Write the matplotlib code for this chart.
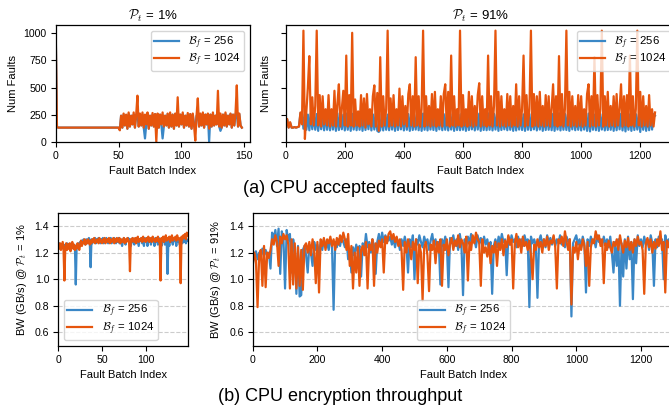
import numpy as np
import matplotlib
matplotlib.use("Agg")
import matplotlib.pyplot as plt

plt.rcParams['font.family'] = ['Liberation Sans', 'DejaVu Sans']
plt.rcParams['mathtext.fontset'] = 'cm'

BLUE = '#3a87c6'
ORANGE = '#e6550d'

# ---------------- data ----------------
# (a) accepted faults, P_t = 1%  (fault batch index 0..148)
faults_1_b1024 = [
    1030, 135,
    130, 130, 130, 130, 130, 130, 130, 130, 130, 130,
    130, 130, 130, 130, 130, 130, 130, 130, 130, 130,
    130, 130, 130, 130, 130, 130, 130, 130, 130, 130,
    130, 130, 130, 130, 130, 130, 130, 130, 130, 130,
    130, 130, 130, 130, 130, 130, 130, 130, 130,
    105, 240, 130, 260, 150, 250, 120, 270, 140,
    240, 160, 270, 130, 250, 425, 140, 260, 150, 270,
    130, 250, 160, 270, 120, 240, 150, 265, 140, 255,
    0, 260, 130, 250, 160, 270, 140, 240, 150, 260,
    130, 270, 140, 250, 120, 260, 150, 410, 140, 250,
    160, 270, 130, 240, 150, 265, 140, 255, 120, 260,
    150, 10, 240, 400, 140, 260, 150, 270, 130, 250,
    160, 260, 120, 250, 140, 270, 150, 240, 160, 470,
    140, 260, 130, 250, 150, 270, 140, 240, 160, 260,
    130, 250, 150, 270, 520, 140, 260, 150, 130,
]
faults_1_b256 = [
    1030, 135,
    130, 130, 130, 130, 130, 130, 130, 130, 130, 130,
    130, 130, 130, 130, 130, 130, 130, 130, 130, 130,
    130, 130, 130, 130, 130, 130, 130, 130, 130, 130,
    130, 130, 130, 130, 130, 130, 130, 130, 130, 130,
    130, 130, 130, 130, 130, 130, 130, 130, 130,
    110, 240, 130, 250, 150, 245, 120, 255, 140,
    240, 160, 250, 130, 250, 250, 140, 255, 150, 250,
    130, 30, 160, 255, 120, 240, 150, 250, 140, 255,
    130, 250, 130, 250, 160, 30, 140, 240, 150, 255,
    130, 250, 140, 250, 120, 255, 150, 250, 140, 250,
    160, 255, 130, 240, 150, 250, 140, 255, 120, 250,
    150, 130, 240, 250, 140, 255, 150, 250, 130, 250,
    160, 255, 0, 250, 140, 255, 150, 240, 160, 250,
    140, 100, 130, 250, 150, 255, 140, 240, 160, 255,
    130, 250, 150, 255, 260, 140, 255, 150, 130,
]

# (a) accepted faults, P_t = 91%  (fault batch index 0..1250, every 5th batch)
faults_91_b1024 = [
    130, 210, 130, 180, 130, 130, 135, 130, 135, 140,
    270, 160, 1025, 25, 280, 500, 790, 160, 410, 150,
    330, 1025, 150, 430, 140, 420, 160, 300, 150, 430,
    140, 300, 150, 470, 140, 350, 530, 140, 300, 470,
    150, 795, 140, 430, 150, 1005, 140, 390, 150, 280,
    140, 430, 150, 400, 130, 440, 160, 300, 140, 420,
    520, 140, 450, 100, 780, 140, 420, 150, 300, 1025,
    140, 400, 150, 430, 140, 300, 150, 490, 140, 420,
    160, 330, 140, 440, 530, 150, 420, 140, 780, 150,
    420, 140, 300, 1025, 140, 420, 150, 330, 140, 440,
    150, 460, 140, 300, 150, 420, 140, 440, 530, 150,
    460, 140, 795, 150, 420, 140, 300, 150, 1025, 140,
    430, 150, 300, 140, 460, 150, 420, 140, 330, 150,
    430, 540, 140, 420, 150, 300, 140, 795, 150, 420,
    140, 330, 1025, 150, 460, 140, 420, 150, 300, 140,
    440, 150, 420, 140, 330, 150, 530, 140, 420, 150,
    300, 795, 140, 430, 150, 300, 1025, 140, 440, 150,
    420, 140, 460, 150, 330, 140, 430, 150, 420, 140,
    300, 530, 150, 420, 140, 790, 150, 440, 140, 300,
    1025, 150, 460, 140, 420, 150, 330, 140, 430, 150,
    420, 140, 300, 150, 440, 530, 140, 420, 150, 780,
    140, 430, 150, 300, 1025, 140, 420, 150, 460, 140,
    330, 150, 420, 140, 440, 150, 300, 530, 140, 420,
    150, 430, 140, 795, 150, 420, 140, 300, 1025, 150,
    460, 140, 420, 150, 330, 140, 430, 150, 300, 140,
    270,
]
faults_91_b256 = [
    130, 205, 130, 175, 130, 130, 135, 130, 135, 140,
    265, 260, 120, 255, 110, 250, 105, 260, 115, 255,
    110, 255, 100, 260, 115, 250, 105, 262, 110, 255,
    105, 258, 112, 250, 100, 262, 108, 255, 115, 250,
    104, 260, 110, 252, 100, 258, 112, 250, 106, 260,
    110, 255, 100, 262, 108, 250, 115, 258, 104, 252,
    112, 260, 100, 90, 108, 255, 104, 262, 110, 250,
    106, 258, 112, 252, 100, 260, 108, 255, 114, 250,
    104, 262, 110, 255, 100, 258, 108, 250, 112, 260,
    106, 252, 100, 260, 110, 255, 104, 262, 112, 250,
    108, 258, 100, 252, 114, 260, 106, 255, 110, 250,
    104, 262, 112, 255, 100, 258, 108, 250, 106, 260,
    110, 252, 100, 262, 108, 255, 114, 250, 104, 258,
    112, 260, 100, 252, 108, 255, 106, 262, 110, 250,
    104, 258, 112, 255, 100, 260, 108, 252, 114, 250,
    106, 262, 110, 255, 100, 258, 104, 250, 112, 260,
    108, 252, 100, 262, 110, 255, 106, 258, 114, 250,
    104, 260, 112, 252, 100, 262, 108, 255, 110, 250,
    106, 258, 100, 255, 112, 262, 104, 250, 110, 258,
    108, 252, 100, 260, 114, 255, 106, 262, 110, 250,
    104, 258, 112, 255, 100, 260, 95, 252, 110, 250,
    106, 262, 100, 255, 112, 258, 104, 250, 108, 260,
    110, 252, 100, 262, 106, 255, 114, 258, 104, 250,
    95, 260, 110, 252, 100, 262, 108, 255, 112, 250,
    90, 258, 110, 255, 100, 262, 106, 250, 112, 255,
    240,
]

# (b) encryption throughput (GB/s), P_t = 1%  (index 0..148)
bw_1_b1024 = [
    1.26, 1.23, 1.27, 1.22, 1.25, 1.28, 1.22, 0.99, 1.24, 1.27,
    1.22, 1.26, 1.23, 1.27, 1.21, 1.25, 1.28, 1.23, 1.26, 1.22,
    1.25, 1.23, 1.27, 1.24, 1.22, 1.26, 1.29, 1.25, 1.28, 1.27,
    1.30, 1.26, 1.29, 1.27, 1.30, 1.28, 1.26, 1.29, 1.27, 1.30,
    1.28, 1.31, 1.27, 1.29, 1.28, 1.30, 1.27, 1.31, 1.28, 1.29,
    1.27, 1.30, 1.28, 1.31, 1.27, 1.29, 1.30, 1.28, 1.31, 1.27,
    1.30, 1.28, 1.29, 1.31, 1.27, 1.30, 1.28, 1.31, 1.29, 1.28,
    1.31, 1.27, 1.30, 1.29, 1.28, 1.31, 1.27, 1.30, 1.28, 1.31,
    1.29, 1.28, 1.06, 1.30, 1.28, 1.31, 1.29, 1.28, 1.31, 1.27,
    1.30, 1.32, 1.28, 1.30, 1.29, 1.31, 1.28, 1.32, 1.29, 1.30,
    1.28, 1.31, 1.29, 1.32, 1.28, 1.30, 1.31, 1.28, 1.32, 1.29,
    1.30, 1.28, 1.31, 1.29, 1.32, 1.28, 1.30, 0.99, 1.31, 1.29,
    1.32, 1.28, 1.30, 1.33, 1.29, 1.31, 1.30, 1.32, 1.28, 1.31,
    1.33, 1.29, 1.31, 1.30, 1.32, 1.29, 1.33, 1.30, 1.31, 1.29,
    0.97, 1.32, 1.30, 1.33, 1.31, 1.34, 1.30, 1.35, 1.33,
]
bw_1_b256 = [
    1.25, 1.27, 1.24, 1.26, 1.23, 1.27, 1.25, 1.24, 1.26, 1.23,
    1.27, 1.24, 1.26, 1.23, 1.25, 1.27, 1.24, 1.26, 1.23, 1.25,
    0.96, 1.26, 1.24, 1.27, 1.25, 1.28, 1.26, 1.29, 1.27, 1.30,
    1.28, 1.26, 1.30, 1.27, 1.29, 1.31, 1.28, 1.09, 1.30, 1.27,
    1.30, 1.28, 1.31, 1.27, 1.30, 1.28, 1.31, 1.29, 1.27, 1.30,
    1.28, 1.31, 1.27, 1.30, 1.28, 1.31, 1.29, 1.27, 1.30, 1.28,
    1.31, 1.27, 1.29, 1.28, 1.31, 1.29, 1.27, 1.30, 1.28, 1.31,
    1.27, 1.30, 1.28, 1.25, 1.29, 1.31, 1.28, 1.26, 1.30, 1.29,
    1.31, 1.28, 1.30, 1.25, 1.29, 1.31, 1.28, 1.26, 1.30, 1.29,
    1.31, 1.28, 1.25, 1.30, 1.29, 1.31, 1.27, 1.30, 1.25, 1.31,
    1.29, 1.30, 1.25, 1.31, 1.28, 1.30, 1.26, 1.31, 1.29, 1.30,
    1.25, 1.31, 1.28, 1.30, 1.26, 1.31, 1.29, 1.30, 1.25, 1.31,
    1.28, 1.30, 1.26, 1.31, 1.29, 1.04, 1.30, 1.25, 1.31, 1.28,
    1.30, 1.26, 1.31, 1.29, 1.30, 1.25, 1.31, 1.28, 1.30, 1.26,
    1.31, 1.29, 1.27, 1.30, 1.28, 1.31, 1.27, 1.30, 1.29,
]

# (b) encryption throughput (GB/s), P_t = 91%  (index 0..1290, every 5th batch)
bw_91_b1024 = [
    1.10, 1.20, 1.14, 0.79, 1.18, 1.22, 0.95, 1.25, 0.94, 1.20,
    1.16, 1.22, 1.30, 1.26, 1.33, 1.28, 1.10, 1.32, 1.27, 1.34,
    1.30, 1.33, 1.26, 0.93, 1.30, 0.96, 1.27, 0.93, 1.24, 0.95,
    1.22, 0.92, 1.25, 1.27, 1.20, 1.28, 1.18, 1.30, 1.22, 0.97,
    1.28, 0.90, 1.30, 1.25, 1.31, 1.22, 1.30, 1.27, 1.32, 1.25,
    1.30, 1.22, 1.31, 1.26, 1.33, 1.28, 1.35, 1.30, 1.22, 1.34,
    1.10, 1.25, 0.93, 1.20, 1.05, 1.24, 0.95, 1.22, 1.25, 1.18,
    1.28, 0.93, 1.26, 1.22, 1.30, 0.95, 1.27, 1.20, 1.29, 1.24,
    1.30, 1.05, 1.32, 1.27, 1.34, 1.36, 1.30, 1.34, 1.28, 1.32,
    1.25, 1.30, 1.22, 0.92, 1.28, 1.20, 1.30, 1.24, 1.15, 1.28,
    1.22, 1.30, 0.97, 1.26, 1.20, 0.84, 1.24, 1.28, 1.18, 0.91,
    1.26, 1.22, 1.29, 1.12, 1.28, 1.20, 1.30, 0.95, 1.26, 1.22,
    1.30, 1.18, 1.27, 1.31, 1.22, 1.29, 1.25, 1.33, 1.24, 1.30,
    1.27, 1.20, 1.32, 0.99, 1.28, 1.22, 1.33, 1.27, 1.35, 1.30,
    1.28, 0.95, 1.30, 1.20, 1.24, 1.17, 1.27, 1.12, 1.25, 1.20,
    1.28, 1.10, 1.27, 1.22, 1.30, 1.18, 1.29, 1.24, 1.33, 1.26,
    1.30, 0.93, 1.27, 1.34, 1.24, 1.30, 1.20, 1.32, 1.25, 1.28,
    1.22, 1.29, 1.18, 1.00, 1.26, 1.22, 1.30, 1.24, 1.28, 1.20,
    1.30, 1.25, 1.32, 1.22, 1.29, 1.27, 1.33, 1.24, 0.93, 1.30,
    1.27, 1.32, 1.25, 1.36, 1.28, 1.22, 1.30, 0.81, 1.24, 1.20,
    1.28, 1.15, 1.26, 1.22, 1.30, 1.25, 1.10, 1.28, 0.95, 1.24,
    1.30, 1.27, 1.36, 1.30, 1.33, 1.25, 1.30, 0.97, 1.27, 1.22,
    1.29, 1.24, 1.20, 1.28, 1.25, 1.30, 1.22, 1.33, 1.26, 1.20,
    1.29, 1.24, 1.31, 1.22, 1.28, 1.20, 1.30, 1.25, 1.32, 1.26,
    1.28, 1.22, 0.89, 1.27, 1.31, 1.24, 1.30, 1.20, 1.28, 1.23,
    1.30, 1.25, 1.36, 1.22, 1.28, 0.90, 1.29, 1.24, 1.30,
]
bw_91_b256 = [
    1.12, 1.18, 1.21, 1.15, 1.20, 1.16, 1.23, 1.18, 1.22, 1.17,
    1.20, 1.08, 1.35, 1.30, 1.37, 1.25, 1.38, 1.04, 1.36, 1.30,
    0.93, 1.37, 1.29, 1.34, 1.05, 1.30, 1.22, 0.89, 1.25, 0.87,
    0.88, 1.22, 1.25, 1.18, 1.05, 1.26, 1.20, 1.10, 1.28, 1.22,
    1.26, 1.18, 1.28, 1.22, 1.30, 1.25, 1.27, 1.22, 1.30, 1.26,
    0.77, 1.28, 1.24, 1.30, 1.25, 1.32, 1.28, 1.24, 1.30, 1.15,
    1.22, 1.05, 1.24, 1.18, 1.26, 1.21, 1.25, 1.02, 1.27, 1.22,
    1.34, 1.24, 1.28, 1.20, 1.30, 1.25, 1.04, 1.28, 1.34, 1.26,
    1.35, 1.28, 1.33, 1.30, 1.29, 1.32, 1.26, 1.30, 1.24, 1.31,
    1.28, 1.22, 1.30, 1.25, 1.32, 1.26, 1.05, 1.30, 1.24, 1.33,
    1.00, 1.30, 1.26, 1.33, 1.28, 1.24, 1.32, 1.27, 1.30, 1.22,
    1.29, 1.34, 1.25, 1.30, 1.22, 1.28, 0.96, 1.30, 1.25, 1.32,
    1.26, 0.94, 1.31, 1.27, 1.33, 1.25, 1.30, 1.22, 1.34, 1.26,
    0.88, 1.30, 1.25, 1.32, 1.27, 1.34, 1.28, 1.30, 1.24, 1.33,
    1.27, 1.31, 1.24, 1.32, 1.26, 1.30, 1.22, 1.28, 0.89, 1.25,
    1.30, 1.24, 1.32, 1.27, 1.34, 1.28, 1.30, 1.03, 1.32, 1.26,
    1.33, 1.28, 1.30, 1.24, 1.32, 1.27, 1.30, 1.25, 1.33, 1.28,
    1.30, 0.79, 1.32, 1.27, 1.30, 1.25, 0.86, 1.29, 1.33, 1.26,
    1.30, 1.24, 1.33, 1.28, 1.31, 1.26, 1.32, 1.25, 1.30, 1.27,
    1.33, 1.26, 1.30, 1.24, 1.32, 1.28, 1.30, 0.72, 1.27, 1.30,
    1.33, 1.26, 1.30, 1.24, 1.32, 1.27, 0.90, 1.30, 1.25, 1.32,
    1.27, 1.30, 1.24, 1.33, 1.28, 1.30, 1.25, 1.32, 1.26, 1.30,
    1.24, 1.32, 1.20, 1.05, 1.28, 1.10, 1.30, 0.80, 1.27, 1.02,
    1.30, 1.08, 1.32, 1.15, 1.28, 0.85, 1.30, 1.12, 1.33, 1.25,
    1.30, 1.24, 1.32, 1.26, 1.30, 1.22, 1.33, 1.27, 0.95, 1.30,
    1.24, 1.32, 1.27, 1.30, 1.00, 1.33, 1.26, 1.30, 1.25,
]

idx_1 = np.arange(len(faults_1_b1024))
idx_91_faults = np.arange(len(faults_91_b1024)) * 5
idx_1_bw = np.arange(len(bw_1_b1024))
idx_91_bw = np.arange(len(bw_91_b1024)) * 5

labels = [r'$\mathcal{B}_f$ = 256', r'$\mathcal{B}_f$ = 1024']

# ---------------- figure ----------------
W, H = 669, 411
fig = plt.figure(figsize=(W / 100, H / 100), dpi=100)

def px_axes(l, t, r, b):
    return fig.add_axes([l / W, 1 - b / H, (r - l) / W, (b - t) / H])

ax1 = px_axes(55.7, 25, 250, 141.7)
ax2 = px_axes(285.7, 25, 676, 141.7)
ax3 = px_axes(58.3, 212.7, 188, 345.7)
ax4 = px_axes(252.7, 212.7, 674, 345.7)

LW = 1.6
TICK_FS = 7.6
LAB_FS = 8
LEG_FS = 8.2
TITLE_FS = 9.5
leg_kw = dict(fontsize=LEG_FS, handlelength=2.2, labelspacing=0.05,
              borderpad=0.3, handletextpad=0.8)

for ax in (ax1, ax2, ax3, ax4):
    ax.tick_params(labelsize=TICK_FS, length=3.5, width=0.8, pad=3)
    for s in ax.spines.values():
        s.set_linewidth(0.9)

# top-left
ax1.plot(idx_1, faults_1_b256, color=BLUE, lw=LW, label=labels[0])
ax1.plot(idx_1, faults_1_b1024, color=ORANGE, lw=LW, label=labels[1])
ax1.set_xlim(0, 154.5)
ax1.set_ylim(0, 1077)
ax1.set_yticks([0, 250, 500, 750, 1000])
ax1.set_xticks([0, 50, 100, 150])
ax1.set_title(r'$\mathcal{P}_t$ = 1%', fontsize=TITLE_FS, pad=4)
ax1.set_ylabel('Num Faults', fontsize=LAB_FS)
ax1.set_xlabel('Fault Batch Index', fontsize=LAB_FS)
ax1.legend(loc='upper right', **leg_kw)

# top-right
ax2.plot(idx_91_faults, faults_91_b256, color=BLUE, lw=LW, label=labels[0])
ax2.plot(idx_91_faults, faults_91_b1024, color=ORANGE, lw=LW, label=labels[1])
ax2.set_xlim(0, 1321)
ax2.set_ylim(0, 1077)
ax2.set_yticks([0, 250, 500, 750, 1000])
ax2.set_yticklabels([])
ax2.set_xticks([0, 200, 400, 600, 800, 1000, 1200])
ax2.set_title(r'$\mathcal{P}_t$ = 91%', fontsize=TITLE_FS, pad=4)
ax2.set_ylabel('Num Faults', fontsize=LAB_FS)
ax2.set_xlabel('Fault Batch Index', fontsize=LAB_FS)
ax2.legend(loc='upper right', **leg_kw)

# bottom panels
for ax in (ax3, ax4):
    ax.set_ylim(0.5, 1.5)
    ax.set_yticks([0.6, 0.8, 1.0, 1.2, 1.4])
    ax.grid(axis='y', linestyle='--', color='#cccccc', linewidth=0.8)
    ax.set_axisbelow(True)

ax3.plot(idx_1_bw, bw_1_b256, color=BLUE, lw=LW, label=labels[0])
ax3.plot(idx_1_bw, bw_1_b1024, color=ORANGE, lw=LW, label=labels[1])
ax3.set_xlim(0, 148.4)
ax3.set_xticks([0, 50, 100])
ax3.set_ylabel(r'BW (GB/s) @ $\mathcal{P}_t$ = 1%', fontsize=LAB_FS)
ax3.set_xlabel('Fault Batch Index', fontsize=LAB_FS)
ax3.legend(loc='lower left', **leg_kw)

ax4.plot(idx_91_bw, bw_91_b256, color=BLUE, lw=LW, label=labels[0])
ax4.plot(idx_91_bw, bw_91_b1024, color=ORANGE, lw=LW, label=labels[1])
ax4.set_xlim(0, 1302)
ax4.set_xticks([0, 200, 400, 600, 800, 1000, 1200])
ax4.set_ylabel(r'BW (GB/s) @ $\mathcal{P}_t$ = 91%', fontsize=LAB_FS)
ax4.set_xlabel('Fault Batch Index', fontsize=LAB_FS)
ax4.legend(loc='lower center', **leg_kw)

fig.text(339 / W, 1 - 188 / H, '(a) CPU accepted faults', fontsize=13,
         ha='center', va='center')
fig.text(340 / W, 1 - 396 / H, '(b) CPU encryption throughput', fontsize=13,
         ha='center', va='center')

fig.savefig('out.png', dpi=100)
